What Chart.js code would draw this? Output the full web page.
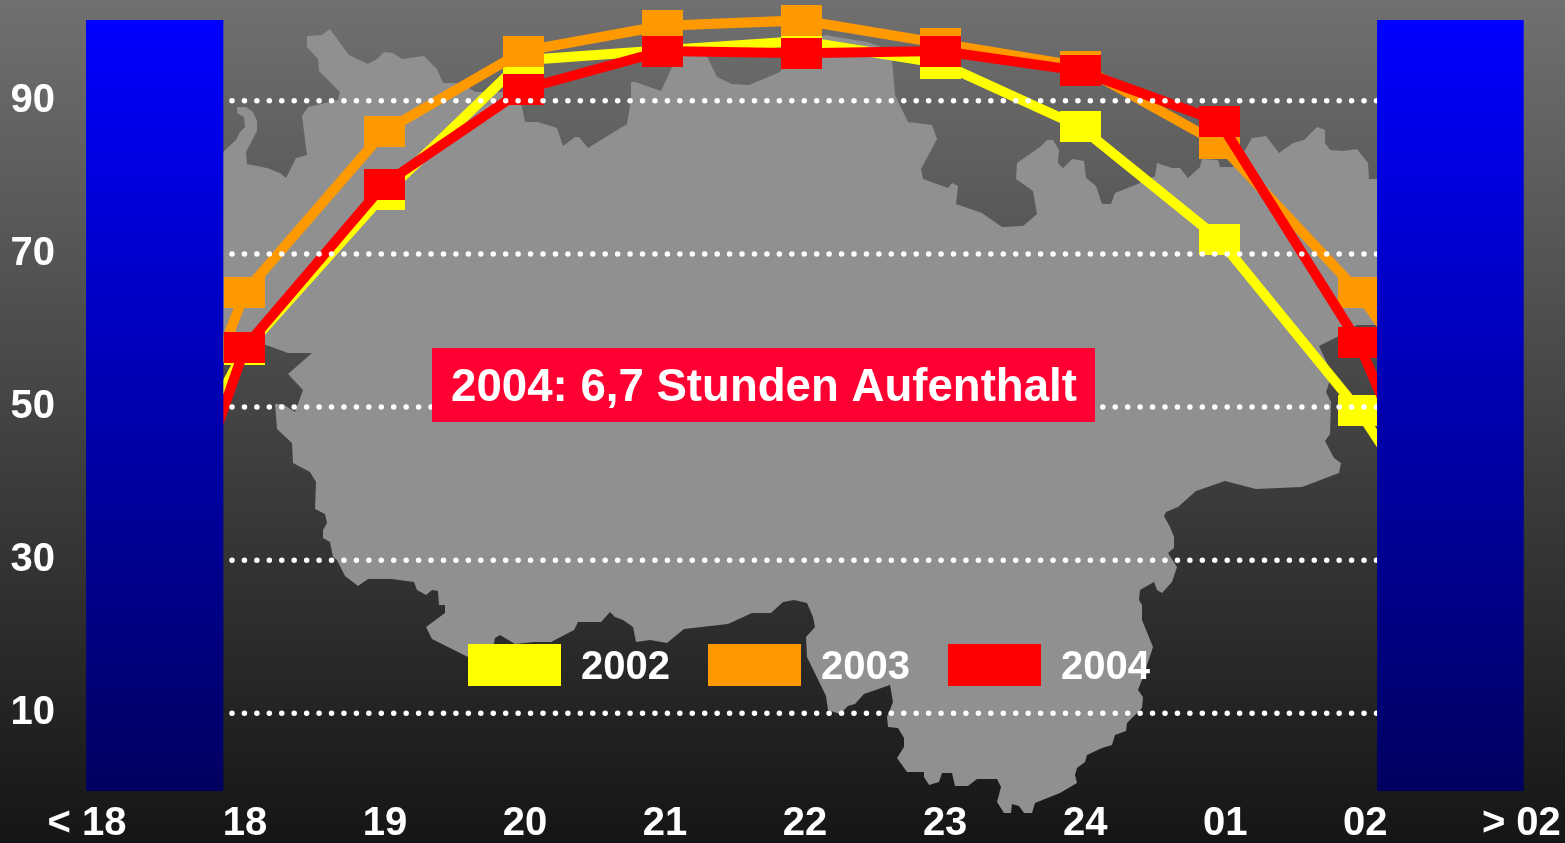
<!DOCTYPE html>
<html lang="de">
<head>
<meta charset="utf-8">
<title>Aufenthalt 2002-2004</title>
<script src="https://cdn.jsdelivr.net/npm/chart.js@4"></script>
<style>
  html, body { margin: 0; padding: 0; width: 1565px; height: 843px; overflow: hidden; }
  body { background: linear-gradient(to bottom, #707070 0%, #151515 100%); }
  canvas { display: block; }
</style>
</head>
<body>
<canvas id="chart" width="1565" height="843"></canvas>
<script>
const hours = ['< 18', '18', '19', '20', '21', '22', '23', '24', '01', '02', '> 02'];
const series2002 = [23.6, 57.5, 77.8, 95.3, 96.6, 97.8, 94.9, 86.6, 71.9, 49.6, 21.9];
const series2003 = [17.6, 65, 86, 96.5, 99.8, 100.5, 97.5, 94.5, 84.4, 65, 39];
const series2004 = [5.7, 57.8, 79.1, 91.5, 96.5, 96.2, 96.5, 93.9, 87.3, 58.4, 16];
const yTicks = [90, 70, 50, 30, 10];
const note = '2004: 6,7 Stunden Aufenthalt';

// grey region behind the chart, canvas pixels
const mapOutline = [
  [200,152],[223,152],[236,140],[240,132],[245,127],[244,117],[237,113],[237,107],[246,107],[253,112],[257,121],[257,131],
  [246,152],[247,164],[267,168],[280,173],[286,178],[296,158],[307,155],[302,116],[308,107],[338,100],[340,92],[319,71],
  [318,59],[307,47],[307,36],[322,35],[330,29],[349,55],[368,64],[377,59],[384,52],[393,53],[402,59],[424,56],[437,69],
  [443,83],[462,83],[475,92],[510,92],[520,100],[522,107],[525,122],[538,122],[557,128],[563,146],[575,137],[579,137],
  [588,148],[627,124],[631,100],[631,82],[635,82],[661,91],[672,67],[680,55],[705,55],[708,58],[717,77],[732,84],[749,85],
  [780,72],[783,68],[790,50],[825,35],[867,42],[890,50],[892,58],[895,95],[908,122],[932,125],[937,139],[921,169],[923,179],
  [948,188],[952,183],[958,186],[956,204],[982,213],[1002,227],[1023,226],[1037,214],[1033,191],[1016,179],[1017,163],
  [1040,147],[1047,140],[1053,140],[1059,150],[1058,163],[1063,168],[1072,159],[1084,161],[1086,178],[1096,186],[1102,204],
  [1111,204],[1115,193],[1140,183],[1155,176],[1157,163],[1172,168],[1180,168],[1188,178],[1200,167],[1202,159],[1218,160],
  [1220,167],[1233,167],[1245,150],[1252,138],[1266,136],[1279,153],[1293,143],[1304,140],[1317,127],[1325,130],[1325,143],
  [1330,150],[1343,151],[1357,149],[1368,163],[1369,179],[1390,179],[1390,325],[1357,325],[1337,337],[1319,346],[1327,363],
  [1330,380],[1326,392],[1331,402],[1330,434],[1325,441],[1334,458],[1341,463],[1339,473],[1302,487],[1256,489],[1225,481],
  [1196,491],[1178,507],[1166,512],[1164,516],[1170,527],[1174,537],[1174,548],[1168,553],[1177,567],[1172,582],[1162,593],
  [1157,590],[1154,582],[1140,590],[1139,600],[1142,605],[1142,620],[1153,647],[1143,677],[1138,690],[1143,697],[1142,708],
  [1133,717],[1127,723],[1126,731],[1115,735],[1112,745],[1102,748],[1087,755],[1085,762],[1077,768],[1075,775],[1077,783],
  [1060,793],[1035,803],[1032,813],[1024,813],[1019,806],[1012,804],[1011,813],[1004,813],[997,802],[1001,787],[997,779],
  [977,779],[968,786],[955,786],[952,773],[942,773],[939,782],[929,785],[924,777],[924,772],[907,772],[897,758],[904,747],
  [904,738],[898,728],[888,727],[887,717],[893,702],[890,685],[864,694],[855,704],[848,706],[840,714],[828,710],[826,696],
  [807,657],[806,637],[815,627],[813,617],[807,603],[794,600],[783,602],[771,613],[752,613],[728,624],[684,629],[667,643],
  [650,640],[636,642],[633,627],[623,620],[615,617],[610,612],[601,622],[578,622],[574,630],[551,642],[534,642],[515,644],
  [500,635],[495,638],[493,648],[480,660],[468,657],[432,639],[426,627],[445,613],[445,605],[439,605],[438,591],[432,590],
  [426,595],[417,590],[414,582],[392,579],[368,579],[358,586],[345,576],[337,560],[333,557],[330,542],[323,538],[323,530],
  [327,523],[325,514],[315,509],[316,482],[310,472],[293,463],[292,443],[277,429],[275,404],[283,404],[295,412],[303,390],
  [288,374],[312,353],[288,353],[266,345],[223,340],[200,340]
];

const FONT = '"Liberation Sans", Arial, sans-serif';
const YELLOW = '#ffff00', ORANGE = '#ff9900', RED = '#ff0000';

// hour 18 is 0 on the x scale, the open ended classes end under the blue blocks
const xMin = -1.1423, xMax = 9.1889;
const xOf = i => i - 1;
// tick labels spread a little wider than the points
const xTicks = hours.map((h, i) => i === 0 ? -1.135 : i === hours.length - 1 ? 9.17 : (i - 1) * 1.006);

function filledCanvas(color, width, height, fillHeight) {
  const c = document.createElement('canvas');
  c.width = width;
  c.height = height;
  const g = c.getContext('2d');
  g.fillStyle = color;
  g.fillRect(0, 0, width, fillHeight);
  return c;
}

function lineSeries(label, values, color, order) {
  return {
    type: 'line',
    label,
    order,
    data: values.map((v, i) => ({ x: xOf(i), y: v })),
    borderColor: color,
    backgroundColor: color,
    borderWidth: 10,
    tension: 0,
    clip: false,
    pointStyle: filledCanvas(color, 41, 31, 31),
    pointRadius: c => (c.dataIndex === 0 || c.dataIndex === values.length - 1) ? 0 : 10,
    pointBorderWidth: 0
  };
}

function dotLine(level) {
  return {
    type: 'line',
    order: 1,
    data: [{ x: -0.0934, y: level }, { x: 8.99, y: level }],
    borderColor: '#ffffff',
    borderWidth: 5.5,
    borderDash: [0.01, 12.43],
    borderCapStyle: 'round',
    pointRadius: 0
  };
}

function blueGradient(c) {
  const area = c.chart.chartArea;
  if (!area) return '#0000ff';
  const g = c.chart.ctx.createLinearGradient(0, area.top, 0, area.bottom);
  g.addColorStop(0, '#0000ff');
  g.addColorStop(1, '#000060');
  return g;
}

function outerBlock(x, width) {
  return {
    type: 'bar',
    order: 0,
    grouped: false,
    data: [{ x, y: [-0.15, 100.55] }],
    backgroundColor: blueGradient,
    borderWidth: 0,
    barThickness: width
  };
}

// labels must not push the plot area in, it fills the frame exactly
function noScalePadding(axis) {
  axis.paddingTop = axis.paddingBottom = axis.paddingLeft = axis.paddingRight = 0;
}

const backdrop = {
  id: 'backdrop',
  beforeDraw(chart) {
    const ctx = chart.ctx;
    ctx.save();
    ctx.fillStyle = '#909090';
    ctx.beginPath();
    mapOutline.forEach(([x, y], i) => i ? ctx.lineTo(x, y) : ctx.moveTo(x, y));
    ctx.closePath();
    ctx.fill();
    ctx.restore();
  }
};

const noteBox = {
  id: 'noteBox',
  afterDatasetsDraw(chart) {
    const ctx = chart.ctx;
    ctx.save();
    ctx.fillStyle = '#ff0033';
    ctx.fillRect(432, 348, 663, 74);
    ctx.fillStyle = '#ffffff';
    ctx.font = 'bold 45.6px ' + FONT;
    ctx.textAlign = 'center';
    ctx.textBaseline = 'middle';
    ctx.fillText(note, 764, 388.5);
    ctx.restore();
  }
};

// moves the built-in legend to its spot inside the plot and keeps it in one row
const legendSpot = {
  id: 'legendSpot',
  beforeUpdate(chart) {
    chart.legend.isHorizontal = () => true;
  },
  afterLayout(chart) {
    const l = chart.legend;
    l.left = 468 - 38;
    l.right = l.left + 800;
    l.top = 648 - 38;
    l.bottom = l.top + 120;
  }
};

new Chart(document.getElementById('chart'), {
  data: {
    datasets: [
      outerBlock(-0.65, 137),
      outerBlock(8.66, 146),
      ...yTicks.map(dotLine),
      lineSeries('2002', series2002, YELLOW, 4),
      lineSeries('2003', series2003, ORANGE, 3),
      lineSeries('2004', series2004, RED, 2)
    ]
  },
  plugins: [backdrop, noteBox, legendSpot],
  options: {
    responsive: false,
    animation: false,
    layout: { padding: { top: 20, right: 41, left: 0, bottom: 0 } },
    plugins: {
      tooltip: { enabled: false },
      legend: {
        position: 'chartArea',
        align: 'start',
        labels: {
          usePointStyle: true,
          pointStyleWidth: 93,
          boxHeight: 42,
          padding: 38,
          color: '#ffffff',
          font: { family: FONT, size: 40, weight: 'bold' },
          filter: item => !!item.text,
          // swatch has a clear strip below it so the digits sit level with it
          generateLabels: chart => chart.data.datasets.map((d, i) => ({
            text: d.label,
            pointStyle: d.label ? filledCanvas(d.backgroundColor, 93, 48, 42) : undefined,
            lineWidth: 0,
            fontColor: '#ffffff',
            hidden: false,
            datasetIndex: i
          }))
        }
      }
    },
    scales: {
      x: {
        type: 'linear',
        offset: false,
        min: xMin,
        max: xMax,
        grid: { display: false, drawTicks: false },
        border: { display: false },
        afterBuildTicks: axis => { axis.ticks = xTicks.map(value => ({ value })); },
        afterFit: axis => { axis.height = 52; noScalePadding(axis); },
        ticks: {
          autoSkip: false,
          maxRotation: 0,
          padding: 9,
          color: '#ffffff',
          font: { family: FONT, size: 40, weight: 'bold' },
          callback: (value, index) => hours[index]
        }
      },
      y: {
        min: -0.15,
        max: 100.55,
        grid: { display: false, drawTicks: false },
        border: { display: false },
        afterBuildTicks: axis => { axis.ticks = yTicks.map(value => ({ value })); },
        afterFit: axis => { axis.width = 86; noScalePadding(axis); },
        ticks: {
          padding: 31,
          color: '#ffffff',
          font: { family: FONT, size: 40, weight: 'bold' }
        }
      }
    }
  }
});
</script>
</body>
</html>
